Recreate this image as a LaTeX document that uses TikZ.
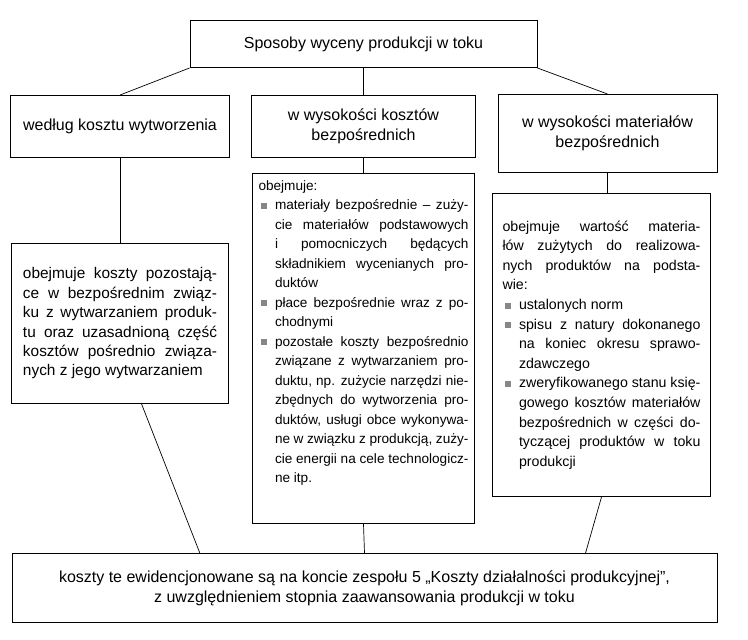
\documentclass[tikz,border=0pt]{standalone}
\usepackage{fontspec}
\setmainfont{Liberation Sans}
\usepackage{xcolor}
\definecolor{bulgray}{rgb}{0.53,0.53,0.53}
\usepackage{tikz}
\usetikzlibrary{positioning}

\newcommand{\bulsq}{\textcolor{bulgray}{\rule[1pt]{6pt}{6pt}}}
\newcommand{\punkt}[1]{\par\noindent\hangindent=16.5pt\hangafter=1%
    \makebox[16.5pt][l]{\hspace{2.5pt}\bulsq}#1\par}
\tolerance=10000
\pretolerance=-1

\begin{document}
\begin{tikzpicture}[
    x=1pt, y=-1pt,
    box/.style={
        rectangle, draw, line width=1pt,
        inner sep=0pt, align=center,
        font=\fontsize{16}{19.5}\selectfont
    },
    txt/.style={
        rectangle, draw, line width=1pt,
        inner ysep=4pt, align=justify,
        font=\fontsize{13.6}{19.5}\selectfont
    },
    lin/.style={line width=0.7pt}
]
\useasboundingbox (0,0) rectangle (748,640);

% --- Nagłówek i trzy sposoby ---
\node[box, minimum width=347pt, minimum height=47pt, anchor=north] (top) at (363.5,20)
    {Sposoby wyceny produkcji w toku};
\node[box, minimum width=224pt, minimum height=62pt, below=27pt of top] (l2mid)
    {w wysokości kosztów\\bezpośrednich};
\node[box, minimum width=219pt, minimum height=62pt, left=21pt of l2mid] (l2left)
    {według kosztu wytworzenia};
\node[box, minimum width=219pt, minimum height=78pt, anchor=north] (l2right) at (607.5,94)
    {w wysokości materiałów\\bezpośrednich};

% --- Opisy ---
\node[txt, text width=194pt, inner xsep=11.5pt, minimum height=160pt,
      font=\fontsize{15.4}{19.4}\selectfont,
      below=85pt of l2left] (detleft) {%
obejmuje koszty pozostają-\linebreak ce w bezpośrednim związ-\linebreak
ku z wytwarzaniem produk-\linebreak tu oraz uzasadnioną część\linebreak
kosztów pośrednio związa-\linebreak nych z jego wytwarzaniem\par};

\node[txt, text width=210pt, inner xsep=6pt, minimum height=350pt,
      below=15pt of l2mid] (detmid) {%
obejmuje:
\punkt{materiały bezpośrednie – zuży-\linebreak cie materiałów podstawowych\linebreak
i pomocniczych będących\linebreak składnikiem wycenianych pro-\linebreak duktów}
\punkt{płace bezpośrednie wraz z po-\linebreak chodnymi}
\punkt{pozostałe koszty bezpośrednio\linebreak związane z wytwarzaniem pro-\linebreak
duktu, np. zużycie narzędzi nie-\linebreak zbędnych do wytworzenia pro-\linebreak
duktów, usługi obce wykonywa-\linebreak ne w związku z produkcją, zuży-\linebreak
cie energii na cele technologicz-\linebreak ne itp.}
\rule{0pt}{30pt}\par};

\node[txt, text width=198pt, inner xsep=10pt, minimum height=303pt,
      font=\fontsize{14.2}{19.6}\selectfont,
      below=20pt of l2right, xshift=-6pt] (detright) {%
obejmuje wartość materia-\linebreak łów zużytych do realizowa-\linebreak
nych produktów na podsta-\linebreak wie:
\punkt{ustalonych norm}
\punkt{spisu z natury dokonanego\linebreak na koniec okresu sprawo-\linebreak zdawczego}
\punkt{zweryfikowanego stanu księ-\linebreak gowego kosztów materiałów\linebreak
bezpośrednich w części do-\linebreak tyczącej produktów w toku\linebreak produkcji}};

% --- Podsumowanie ---
\node[box, minimum width=705pt, minimum height=69pt, anchor=north,
      font=\fontsize{16}{20}\selectfont] (bottom) at (364.5,553)
    {koszty te ewidencjonowane są na koncie zespołu 5 „Koszty działalności produkcyjnej”,\\
     z uwzględnieniem stopnia zaawansowania produkcji w toku};

% --- Połączenia ---
\draw[lin] (top.south west) -- (l2left.north);
\draw[lin] (top.south) -- (l2mid.north);
\draw[lin] (top.south east) -- (l2right.north);
\draw[lin] (l2left.south) -- (detleft.north);
\draw[lin] (l2mid.south) -- (detmid.north);
\draw[lin] (l2right.south) -- (l2right.south |- detright.north);
\draw[lin] (detleft.-75) -- (bottom.168);
\draw[lin] (detmid.south) -- (bottom.north);
\draw[lin] (detright.south) -- (bottom.9);

\end{tikzpicture}
\end{document}
